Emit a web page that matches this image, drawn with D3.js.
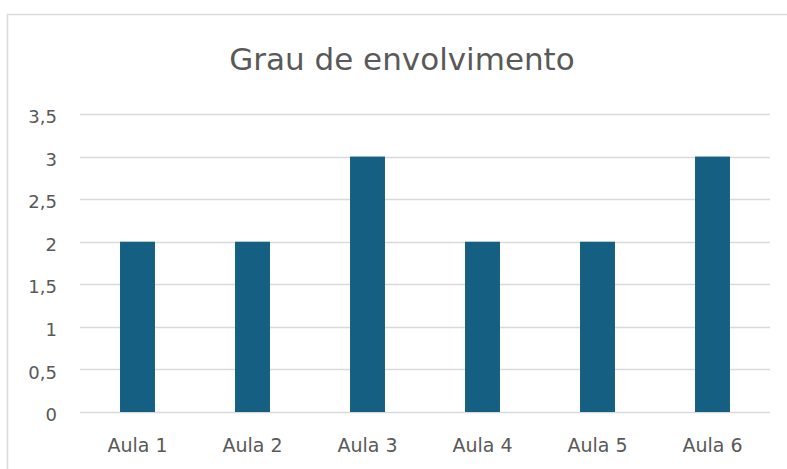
<!DOCTYPE html>
<html>
<head>
<meta charset="utf-8">
<script src="https://cdn.jsdelivr.net/npm/d3@7"></script>
<style>
  body { margin: 0; background: #fff; }
  text { font-family: "DejaVu Sans", "Liberation Sans", sans-serif; fill: #595959; }
</style>
</head>
<body>
<div id="chart"></div>
<script>
// data
const categories = ["Aula 1", "Aula 2", "Aula 3", "Aula 4", "Aula 5", "Aula 6"];
const values = [2, 2, 3, 2, 2, 3];
const yTicks = [0, 0.5, 1, 1.5, 2, 2.5, 3, 3.5];
const title = "Grau de envolvimento";

const W = 787, H = 469;
const plot = { left: 80, right: 770, top: 114, bottom: 412 };

const svg = d3.select("#chart").append("svg")
  .attr("width", W)
  .attr("height", H);

// chart area border (runs off the right and bottom edges)
svg.append("path")
  .attr("d", "M7.5," + H + "V14.5H" + W)
  .attr("fill", "none")
  .attr("stroke", "#d9d9d9")
  .attr("stroke-width", 1.5);

svg.append("text")
  .attr("x", 402)
  .attr("y", 70)
  .attr("text-anchor", "middle")
  .style("font-size", "31px")
  .text(title);

const x = d3.scaleBand()
  .domain(categories)
  .range([plot.left, plot.right])
  .paddingInner(0.696)
  .paddingOuter(0.348);

const y = d3.scaleLinear()
  .domain([0, 3.5])
  .range([plot.bottom, plot.top]);

const fmt = d => String(d).replace(".", ",");

// gridlines
svg.append("g")
  .selectAll("line")
  .data(yTicks)
  .enter().append("line")
  .attr("x1", plot.left)
  .attr("x2", plot.right)
  .attr("y1", d => Math.round(y(d)) + 0.5)
  .attr("y2", d => Math.round(y(d)) + 0.5)
  .attr("stroke", "#d9d9d9")
  .attr("stroke-width", 1.5);

// y axis labels
const yAxis = d3.axisLeft(y).tickValues(yTicks).tickFormat(fmt).tickSize(0).tickPadding(23);
const gy = svg.append("g")
  .attr("transform", "translate(" + plot.left + ",0)")
  .call(yAxis);
gy.select(".domain").remove();
gy.selectAll("text")
  .style("font-size", "18px")
  .attr("dy", "0.48em")
  .attr("fill", null);

// bars
svg.append("g")
  .selectAll("rect")
  .data(values)
  .enter().append("rect")
  .attr("x", (d, i) => x(categories[i]))
  .attr("width", x.bandwidth())
  .attr("y", d => y(d))
  .attr("height", d => y(0) - y(d))
  .attr("fill", "#156082");

// x axis labels
const xAxis = d3.axisBottom(x).tickSize(0);
const gx = svg.append("g")
  .attr("transform", "translate(0," + plot.bottom + ")")
  .call(xAxis);
gx.select(".domain").remove();
gx.selectAll("text")
  .style("font-size", "19px")
  .attr("y", 40)
  .attr("dy", 0)
  .attr("fill", null);
</script>
</body>
</html>
